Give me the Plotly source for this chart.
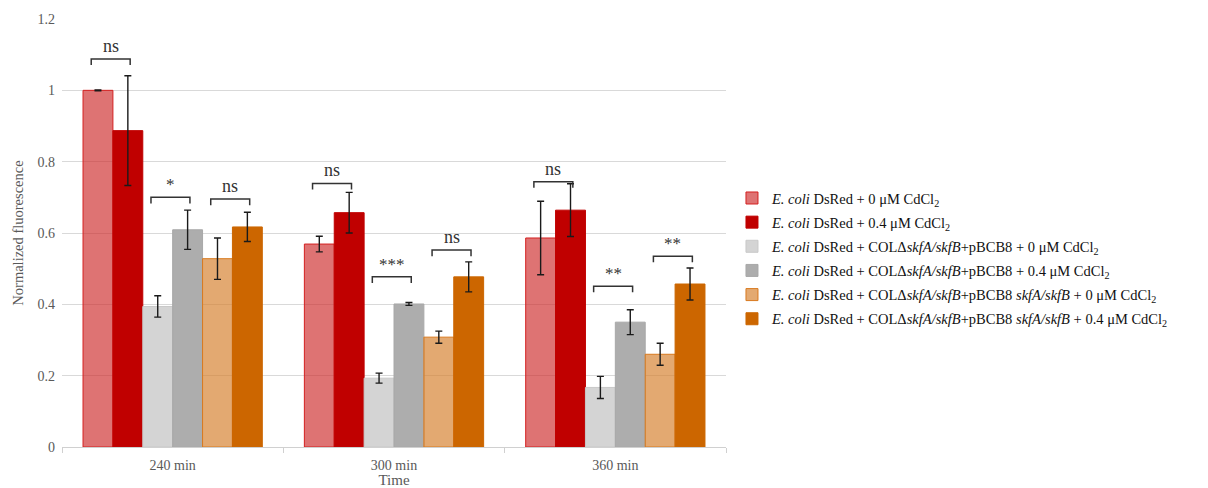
import plotly.graph_objects as go

# Sampling times (x categories)
times = ["240 min", "300 min", "360 min"]

# Strain / treatment series (legend order)
series_names = [
    "<i>E. coli</i> DsRed + 0 μM CdCl<sub>2</sub>",
    "<i>E. coli</i> DsRed + 0.4 μM CdCl<sub>2</sub>",
    "<i>E. coli</i> DsRed + COLΔ<i>skfA/skfB</i>+pBCB8 + 0 μM CdCl<sub>2</sub>",
    "<i>E. coli</i> DsRed + COLΔ<i>skfA/skfB</i>+pBCB8 + 0.4 μM CdCl<sub>2</sub>",
    "<i>E. coli</i> DsRed + COLΔ<i>skfA/skfB</i>+pBCB8 <i>skfA/skfB</i> + 0 μM CdCl<sub>2</sub>",
    "<i>E. coli</i> DsRed + COLΔ<i>skfA/skfB</i>+pBCB8 <i>skfA/skfB</i> + 0.4 μM CdCl<sub>2</sub>",
]

# Normalized fluorescence means, one list per series (240, 300, 360 min)
dsred_0 = [1.000, 0.569, 0.586]
dsred_04 = [0.887, 0.657, 0.664]
col_0 = [0.394, 0.193, 0.167]
col_04 = [0.609, 0.401, 0.350]
comp_0 = [0.528, 0.308, 0.260]
comp_04 = [0.617, 0.477, 0.457]

# Error (± SD)
dsred_0_err = [0.001, 0.022, 0.103]
dsred_04_err = [0.154, 0.057, 0.074]
col_0_err = [0.030, 0.014, 0.031]
col_04_err = [0.055, 0.004, 0.035]
comp_0_err = [0.058, 0.017, 0.031]
comp_04_err = [0.041, 0.042, 0.045]

means = [dsred_0, dsred_04, col_0, col_04, comp_0, comp_04]
errors = [dsred_0_err, dsred_04_err, col_0_err, col_04_err, comp_0_err, comp_04_err]

fill_colors = ["rgba(204,40,40,0.65)", "#C00000", "#D4D4D4", "#ADADAD",
               "rgba(214,128,46,0.68)", "#CC6600"]
line_colors = ["#D42020", "#C00000", "#C8C8C8", "#A8A8A8", "#D97A1F", "#CC6600"]

# Significance comparisons: (time index, series a, series b, label, bracket level)
sig_time = [0, 0, 0, 1, 1, 1, 2, 2, 2]
sig_a = [0, 2, 4, 0, 2, 4, 0, 2, 4]
sig_b = [1, 3, 5, 1, 3, 5, 1, 3, 5]
sig_text = ["ns", "*", "ns", "ns", "***", "ns", "ns", "**", "**"]
sig_level = [1.088, 0.700, 0.695, 0.739, 0.477, 0.552, 0.744, 0.451, 0.535]

SERIF = "Liberation Serif"
BARGAP = 0.19

fig = go.Figure()
for k, (name, m, e, fc, lc) in enumerate(zip(series_names, means, errors,
                                                fill_colors, line_colors)):
    fig.add_trace(go.Bar(
        x=times, y=m, name=name, legendgroup=f"g{k}",
        marker=dict(color=fc, line=dict(color=lc, width=1)),
        error_y=dict(type="data", array=e, visible=True,
                     color="#1a1a1a", thickness=1.4, width=3.5),
    ))

# Bracket geometry derived from the grouped-bar layout
n_series = len(series_names)
bar_w = (1 - BARGAP) / n_series


def bar_center(t, i):
    return t - (1 - BARGAP) / 2 + (i + 0.5) * bar_w


shapes = []
annotations = []
half = 0.088
hook = 0.017
for t, a, b, txt, lvl in zip(sig_time, sig_a, sig_b, sig_text, sig_level):
    mid = (bar_center(t, a) + bar_center(t, b)) / 2 - 0.01
    x0, x1 = mid - half, mid + half
    pts = f"M{x0},{lvl - hook} L{x0},{lvl} L{x1},{lvl} L{x1},{lvl - hook}"
    shapes.append(dict(type="path", path=pts, xref="x", yref="y",
                       line=dict(color="#333333", width=1.5)))
    annotations.append(dict(x=mid, y=lvl, xref="x", yref="y", text=txt,
                            showarrow=False, yanchor="bottom", yshift=1,
                            font=dict(family=SERIF, size=18 if txt == "ns" else 17,
                                      color="#333333")))

fig.update_layout(
    width=1208, height=488,
    margin=dict(l=62, r=482, t=19, b=41, autoexpand=False),
    paper_bgcolor="white", plot_bgcolor="white",
    barmode="group", bargap=BARGAP, bargroupgap=0,
    font=dict(family=SERIF, color="#595959", size=13),
    shapes=shapes, annotations=annotations,
    legend=dict(x=1.009, y=0.619, xanchor="left", yanchor="top",
                font=dict(family=SERIF, size=14.5, color="#111111"),
                itemwidth=30, tracegroupgap=2.3, bgcolor="rgba(0,0,0,0)"),
    xaxis=dict(
        type="category", showgrid=False, showline=True, linecolor="#D0D0D0",
        linewidth=1, ticks="outside", tickson="boundaries", ticklen=5,
        tickcolor="#D0D0D0", ticklabelstandoff=5, automargin=False,
        tickfont=dict(family=SERIF, size=14, color="#595959"),
        title=dict(text="Time", font=dict(family=SERIF, size=15, color="#595959"),
                   standoff=7),
    ),
    yaxis=dict(
        range=[0, 1.2], dtick=0.2, showgrid=True, gridcolor="#D9D9D9",
        gridwidth=1, zeroline=False, showline=False, ticks="",
        ticklabelstandoff=6, automargin=False,
        tickfont=dict(family=SERIF, size=14, color="#595959"),
        title=dict(text="Normalized fluorescence",
                   font=dict(family=SERIF, size=14.5, color="#595959"), standoff=10),
    ),
)

fig.write_html("out.html")
